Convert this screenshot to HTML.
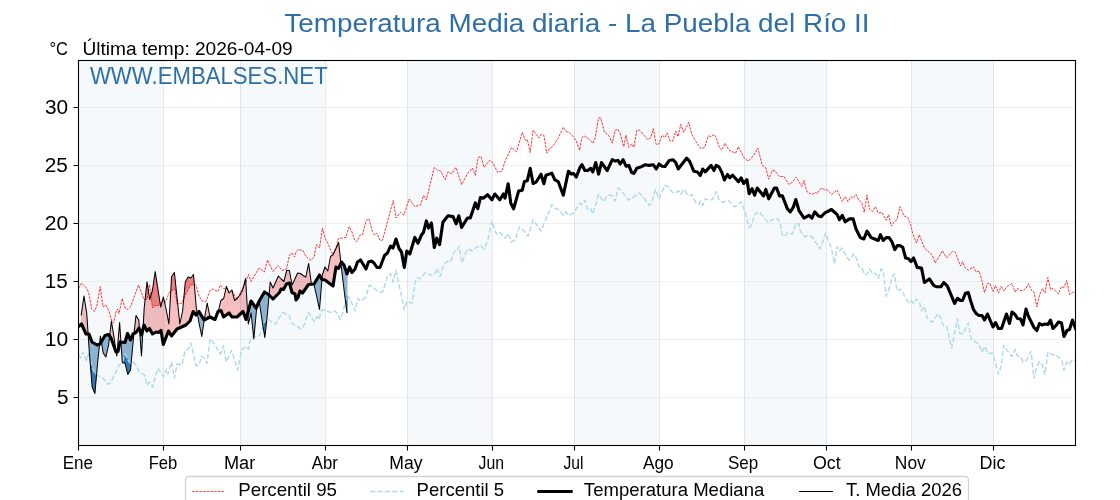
<!DOCTYPE html>
<html lang="es"><head><meta charset="utf-8"><title>Temperatura Media diaria - La Puebla del Río II</title>
<style>html,body{margin:0;padding:0;background:#fff;overflow:hidden}svg{display:block;will-change:transform}body{font-family:"Liberation Sans",sans-serif}</style></head>
<body>
<svg width="1120" height="500" viewBox="0 0 1120 500" font-family="Liberation Sans, sans-serif">
<rect width="1120" height="500" fill="#fff"/>
<rect x="78.50" y="60.5" width="84.91" height="385.0" fill="#f5f9fc"/>
<rect x="240.10" y="60.5" width="84.91" height="385.0" fill="#f5f9fc"/>
<rect x="407.18" y="60.5" width="84.91" height="385.0" fill="#f5f9fc"/>
<rect x="574.26" y="60.5" width="84.91" height="385.0" fill="#f5f9fc"/>
<rect x="744.08" y="60.5" width="82.17" height="385.0" fill="#f5f9fc"/>
<rect x="911.16" y="60.5" width="82.17" height="385.0" fill="#f5f9fc"/>
<path d="M163.5,60.5V445.5 M240.5,60.5V445.5 M325.5,60.5V445.5 M407.5,60.5V445.5 M492.5,60.5V445.5 M574.5,60.5V445.5 M659.5,60.5V445.5 M744.5,60.5V445.5 M826.5,60.5V445.5 M911.5,60.5V445.5 M993.5,60.5V445.5" stroke="#a4b0bc" stroke-opacity="0.27" stroke-width="1" fill="none"/>
<path d="M78.5,397.5H1075.5 M78.5,339.5H1075.5 M78.5,281.5H1075.5 M78.5,223.5H1075.5 M78.5,165.5H1075.5 M78.5,107.5H1075.5" stroke="#b0b0b0" stroke-opacity="0.18" stroke-width="1" fill="none"/>
<clipPath id="c"><rect x="78.5" y="60.5" width="997.0" height="385.0"/></clipPath>
<g clip-path="url(#c)" fill="none" stroke-linejoin="round">
<path d="M81.2,315.0 L81.5,313.2 L84.0,296.0 L86.0,308.5 L86.7,313.0 L88.1,334.0 L88.1,334.0 L86.7,334.0 L86.0,334.0 L84.0,329.5 L81.5,324.0 L81.2,324.2Z M99.6,344.1 L100.0,339.9 L100.4,336.0 L101.3,341.7 L101.3,341.7 L100.4,343.3 L100.0,344.0 L99.6,344.1Z M109.6,336.1 L111.0,324.2 L111.4,321.0 L114.1,338.0 L116.0,350.4 L116.2,351.9 L116.2,351.9 L116.0,352.0 L114.1,346.7 L111.4,339.0 L111.0,338.0 L109.6,336.1Z M117.2,351.7 L118.0,341.9 L119.6,322.5 L120.0,328.6 L120.9,342.1 L120.9,342.1 L120.0,342.0 L119.6,344.0 L118.0,351.5 L117.2,351.7Z M134.0,333.5 L136.0,315.7 L136.0,315.5 L138.8,320.0 L139.0,323.2 L139.5,329.3 L139.5,329.3 L139.0,328.0 L138.8,328.4 L136.0,332.5 L136.0,332.5 L134.0,333.5Z M143.0,328.8 L144.0,312.1 L144.2,308.0 L147.0,281.8 L147.0,282.0 L149.5,298.1 L149.7,299.5 L152.5,290.0 L152.5,289.7 L155.2,271.5 L156.0,276.7 L157.9,289.0 L158.5,292.7 L160.7,307.0 L161.0,305.8 L163.3,297.4 L163.4,297.0 L166.1,309.0 L168.5,321.9 L168.9,324.0 L171.5,278.7 L171.6,276.5 L174.4,272.5 L177.0,297.0 L177.1,298.0 L179.8,324.0 L182.6,311.0 L185.3,282.0 L186.0,280.8 L188.1,277.0 L190.0,277.7 L190.8,278.0 L193.2,274.9 L193.5,274.5 L196.0,304.6 L196.3,308.0 L197.3,313.5 L197.3,313.5 L196.3,314.7 L196.0,315.0 L193.5,311.9 L193.2,311.5 L190.8,318.6 L190.0,321.0 L188.1,322.9 L186.0,325.0 L185.3,325.3 L182.6,326.5 L179.8,327.7 L177.1,329.0 L177.0,329.0 L174.4,332.4 L171.6,335.8 L171.5,336.0 L168.9,331.6 L168.5,331.0 L166.1,337.1 L163.4,344.2 L163.3,344.5 L161.0,330.5 L160.7,330.8 L158.5,332.5 L157.9,332.4 L156.0,332.0 L155.2,332.5 L152.5,334.0 L152.5,333.9 L149.7,328.9 L149.5,328.5 L147.0,331.0 L147.0,331.0 L144.2,325.5 L144.0,325.0 L143.0,328.8Z M204.2,319.9 L204.5,318.0 L207.2,303.0 L210.0,317.0 L210.0,317.0 L210.0,317.0 L210.0,317.0 L207.2,318.4 L204.5,319.8 L204.2,319.9Z M218.2,311.4 L220.9,300.5 L221.0,300.4 L223.5,298.6 L223.7,298.5 L226.4,286.5 L229.0,292.7 L229.1,293.0 L231.9,290.0 L232.0,290.4 L234.6,300.5 L237.0,298.3 L237.4,298.0 L240.1,295.0 L242.8,289.5 L243.0,288.9 L245.6,278.5 L246.0,285.5 L247.7,313.3 L247.7,313.3 L246.0,319.5 L245.6,318.4 L243.0,311.5 L242.8,311.6 L240.1,314.2 L237.4,316.7 L237.0,317.0 L234.6,317.0 L232.0,317.0 L231.9,316.8 L229.1,313.2 L229.0,313.0 L226.4,314.9 L223.7,316.9 L223.5,317.0 L221.0,310.5 L220.9,310.5 L218.2,311.4Z M269.1,295.1 L270.2,282.0 L273.0,288.0 L273.0,287.9 L275.7,282.0 L278.4,276.0 L279.5,277.2 L281.0,278.8 L281.2,279.0 L283.5,281.1 L283.9,281.5 L286.5,271.2 L286.7,270.5 L289.4,270.5 L289.5,271.0 L292.0,284.2 L292.1,285.0 L294.9,279.0 L295.0,278.7 L296.0,276.6 L297.6,273.0 L298.0,273.1 L300.0,273.4 L300.4,273.5 L302.5,275.1 L303.1,275.5 L305.8,277.0 L308.5,263.9 L308.6,263.5 L311.3,283.0 L312.8,284.1 L312.8,284.1 L311.3,284.2 L308.6,284.5 L308.5,284.5 L305.8,288.3 L303.1,292.2 L302.5,293.0 L300.4,291.3 L300.0,291.0 L298.0,297.5 L297.6,298.0 L296.0,300.0 L295.0,294.0 L294.9,293.9 L292.1,292.6 L292.0,292.5 L289.5,283.0 L289.4,283.0 L286.7,283.9 L286.5,284.0 L283.9,288.7 L283.5,289.5 L281.2,289.0 L281.0,289.0 L279.5,292.5 L278.4,293.6 L275.7,296.3 L273.0,299.0 L273.0,299.0 L270.2,296.2 L269.1,295.1Z M321.9,279.4 L322.0,278.4 L322.3,275.0 L325.0,267.0 L325.0,267.0 L327.8,271.0 L330.5,256.5 L333.0,254.7 L333.2,254.5 L336.0,248.5 L336.0,248.4 L338.5,243.0 L338.7,242.5 L340.9,263.2 L340.9,263.2 L338.7,268.1 L338.5,268.5 L336.0,267.0 L336.0,267.2 L333.2,284.6 L333.0,286.0 L330.5,284.1 L327.8,282.1 L325.0,280.0 L325.0,280.0 L322.3,279.5 L322.0,279.5 L321.9,279.4Z" fill="#e11e23" fill-opacity="0.29"/>
<path d="M88.1,334.0 L89.0,348.0 L89.5,355.0 L92.0,384.7 L92.2,387.0 L94.9,393.5 L97.0,369.7 L97.7,362.0 L99.6,344.1 L99.6,344.1 L97.7,344.8 L97.0,345.0 L94.9,343.8 L92.2,342.1 L92.0,342.0 L89.5,335.2 L89.0,334.0 L88.1,334.0Z M101.3,341.7 L103.2,353.0 L105.0,355.7 L105.9,357.0 L108.5,345.6 L108.6,345.0 L109.6,336.1 L109.6,336.1 L108.6,334.7 L108.5,334.5 L105.9,335.2 L105.0,335.5 L103.2,338.6 L101.3,341.7Z M116.2,351.9 L116.8,356.0 L117.2,351.7 L117.2,351.7 L116.8,351.8 L116.2,351.9Z M120.9,342.1 L122.3,362.5 L125.0,363.5 L125.1,363.5 L127.5,373.3 L127.8,374.5 L130.5,370.1 L130.5,370.0 L133.0,343.1 L133.3,340.0 L134.0,333.5 L134.0,333.5 L133.3,333.9 L133.0,334.0 L130.5,339.9 L130.5,340.0 L127.8,334.2 L127.5,333.5 L125.1,342.3 L125.0,342.5 L122.3,342.2 L120.9,342.1Z M139.5,329.3 L141.5,356.0 L141.5,356.0 L143.0,328.8 L143.0,328.8 L141.5,335.0 L141.5,335.0 L139.5,329.3Z M197.3,313.5 L199.0,322.9 L199.0,323.0 L201.8,336.5 L204.0,321.3 L204.2,319.9 L204.2,319.9 L204.0,320.0 L201.8,316.2 L199.0,311.5 L199.0,311.5 L197.3,313.5Z M210.0,317.0 L210.0,317.0 L212.7,318.8 L215.0,319.6 L215.5,319.8 L218.0,312.1 L218.2,311.5 L218.2,311.4 L218.2,311.4 L218.2,311.4 L218.0,311.5 L215.5,318.3 L215.0,319.5 L212.7,318.4 L210.0,317.0 L210.0,317.0Z M247.7,313.3 L248.3,324.0 L251.0,313.2 L251.1,313.0 L253.8,339.0 L256.0,315.7 L256.5,310.0 L259.3,302.0 L259.5,303.5 L262.0,320.0 L264.5,335.9 L264.8,337.5 L267.5,313.0 L268.5,301.6 L269.1,295.1 L269.1,295.1 L268.5,294.5 L267.5,293.9 L264.8,292.2 L264.5,292.0 L262.0,296.2 L259.5,300.5 L259.3,301.0 L256.5,306.9 L256.0,308.0 L253.8,304.9 L251.1,301.1 L251.0,301.0 L248.3,310.9 L247.7,313.3Z M312.8,284.1 L314.0,285.0 L314.1,285.0 L316.8,297.0 L319.5,309.3 L319.5,309.5 L321.9,279.4 L321.9,279.4 L319.5,275.1 L319.5,275.0 L316.8,279.4 L314.1,283.9 L314.0,284.0 L312.8,284.1Z M340.9,263.2 L341.4,268.0 L341.5,268.5 L344.0,289.5 L344.2,291.0 L346.9,312.5 L347.0,312.5 L347.5,312.5 L347.5,272.5 L347.0,274.0 L346.9,273.8 L344.2,265.6 L344.0,265.0 L341.5,262.0 L341.4,262.1 L340.9,263.2Z" fill="#4682b4" fill-opacity="0.6"/>
<path d="M145.1,299.5 L147.0,281.8 L147.0,282.0 L148.4,291.1 L148.4,291.1 L147.0,299.5 L147.0,299.5 L145.1,299.5Z M150.9,295.4 L152.5,290.0 L152.5,289.7 L155.0,272.8 L155.2,271.5 L157.9,289.0 L158.0,289.5 L160.1,303.4 L160.1,303.4 L158.0,306.0 L157.9,306.0 L155.2,305.5 L155.0,305.5 L152.5,308.0 L152.5,307.6 L150.9,295.4Z M162.4,300.7 L163.0,298.5 L163.4,297.0 L164.7,302.5 L164.7,302.5 L163.4,300.6 L163.0,300.0 L162.4,300.7Z M170.8,291.3 L171.6,276.5 L174.4,272.5 L175.0,278.4 L177.0,297.0 L177.1,298.0 L177.7,303.9 L177.7,303.9 L177.1,304.0 L177.0,304.0 L175.0,289.0 L174.4,289.3 L171.6,290.8 L170.8,291.3Z M183.7,298.9 L185.3,282.0 L186.0,280.8 L188.1,277.0 L190.5,277.9 L190.8,278.0 L193.5,274.5 L194.4,285.0 L194.4,285.0 L193.5,285.0 L190.8,285.0 L190.5,285.0 L188.1,289.6 L186.0,293.5 L185.3,295.1 L183.7,298.9Z M226.3,287.1 L226.4,286.5 L228.6,291.7 L228.6,291.7 L226.4,287.3 L226.3,287.1Z M230.5,291.5 L231.9,290.0 L232.0,290.4 L232.0,290.6 L232.0,290.6 L232.0,290.5 L231.9,290.6 L230.5,291.5Z M236.6,298.7 L237.0,298.3 L237.4,298.0 L238.0,297.3 L238.0,297.3 L237.4,298.7 L237.0,299.5 L236.6,298.7Z M243.6,286.6 L245.0,280.8 L245.6,278.5 L245.8,281.9 L245.8,281.9 L245.6,282.4 L245.0,284.0 L243.6,286.6Z" fill="#e11e23" fill-opacity="0.39"/>
<path d="M89.7,357.8 L91.0,373.0 L92.2,387.0 L94.5,392.5 L94.9,393.5 L96.6,374.7 L96.6,374.7 L94.9,373.8 L94.5,373.5 L92.2,366.6 L91.0,363.0 L89.7,357.8Z M122.3,362.5 L122.3,362.5 L125.0,363.5 L125.1,363.5 L127.8,374.5 L128.0,374.2 L130.5,370.1 L130.5,370.0 L131.2,363.2 L131.2,363.2 L130.5,363.5 L130.5,363.5 L128.0,360.0 L127.8,359.6 L125.1,354.1 L125.0,354.0 L122.3,362.5 L122.3,362.5Z M253.6,336.7 L253.8,339.0 L254.0,336.6 L254.0,336.6 L253.8,336.7 L253.6,336.7Z M263.0,326.2 L264.5,335.9 L264.8,337.5 L266.9,318.1 L266.9,318.1 L264.8,321.6 L264.5,322.0 L263.0,326.2Z M345.5,301.4 L346.9,312.5 L347.0,312.5 L347.5,312.5 L347.5,295.7 L347.0,295.0 L346.9,295.3 L345.5,301.4Z" fill="#1f6fb0" fill-opacity="0.85"/>
<path d="M78.5,288.5 L81.5,283.2 L87.0,288.5 L89.0,294.0 L91.7,309.0 L94.5,311.5 L97.0,305.0 L100.3,286.5 L103.0,307.0 L105.5,305.0 L108.5,310.0 L111.5,320.0 L113.5,323.0 L116.0,312.0 L117.5,309.0 L119.0,313.5 L122.2,298.5 L125.0,308.0 L128.0,309.5 L130.5,307.0 L138.5,285.0 L144.0,299.5 L147.0,299.5 L149.5,284.5 L152.5,308.0 L155.0,305.5 L158.0,306.0 L163.0,300.0 L165.0,303.0 L169.5,292.0 L175.0,289.0 L177.0,304.0 L182.0,303.0 L186.0,293.5 L190.5,285.0 L196.0,285.0 L199.0,296.0 L202.0,301.0 L206.0,301.5 L210.0,290.5 L212.5,289.0 L218.0,291.5 L220.5,285.0 L224.0,289.0 L226.0,286.5 L229.0,292.5 L232.0,290.5 L237.0,299.5 L240.0,293.0 L245.0,284.0 L248.5,274.5 L251.0,281.5 L259.0,268.0 L264.5,272.0 L267.5,260.0 L273.0,271.5 L278.0,265.5 L282.0,270.5 L286.5,269.0 L289.5,255.0 L292.0,253.0 L294.5,257.0 L296.0,252.0 L298.0,249.5 L303.0,250.5 L306.0,256.5 L311.0,260.5 L314.0,257.0 L316.5,244.5 L319.5,248.0 L322.5,228.0 L325.0,238.0 L328.0,243.5 L332.5,254.5 L336.0,247.5 L338.5,238.5 L346.0,237.5 L349.0,226.6 L352.0,232.0 L354.5,240.0 L357.0,241.7 L360.0,235.0 L362.5,235.0 L366.0,221.0 L368.8,218.7 L373.0,233.5 L375.0,235.0 L377.0,233.3 L380.0,240.4 L382.5,240.2 L393.2,200.5 L396.1,218.0 L400.4,212.2 L404.0,215.1 L409.1,199.0 L414.8,206.5 L420.6,204.8 L423.5,195.4 L426.4,199.8 L434.3,167.4 L437.2,170.2 L440.8,171.0 L445.1,179.6 L448.0,171.7 L451.6,173.8 L455.9,167.4 L461.6,184.6 L467.4,173.8 L472.4,168.1 L475.3,175.3 L478.2,157.3 L481.1,156.6 L484.0,167.4 L489.7,160.2 L492.6,162.3 L497.6,172.4 L502.0,171.0 L505.0,161.3 L511.5,147.4 L516.5,151.8 L522.3,132.3 L525.2,140.2 L527.3,139.5 L530.2,152.5 L533.1,130.2 L538.8,138.1 L541.0,134.5 L543.9,135.2 L546.8,153.2 L549.6,148.2 L552.5,146.7 L558.3,138.1 L563.3,127.3 L566.2,131.6 L569.1,132.3 L572.7,135.9 L576.3,141.0 L579.5,150.3 L582.0,137.4 L584.2,135.9 L587.8,138.1 L592.8,143.1 L595.0,138.8 L598.6,117.9 L600.8,117.9 L604.4,132.3 L608.7,135.2 L612.3,143.1 L615.2,130.2 L618.0,129.4 L620.2,133.8 L623.8,146.7 L626.0,135.2 L628.8,147.4 L631.7,143.8 L633.9,147.4 L636.8,130.2 L639.6,130.2 L647.6,139.5 L650.4,138.1 L653.3,128.7 L656.2,144.6 L659.1,143.8 L662.0,135.2 L665.0,137.4 L667.2,133.0 L670.0,141.0 L672.9,141.0 L675.8,130.9 L678.0,136.6 L680.8,124.4 L683.7,132.3 L688.8,122.2 L691.6,133.8 L696.0,141.7 L701.0,148.9 L704.6,147.4 L708.2,135.9 L711.1,136.6 L714.0,134.5 L716.1,137.4 L719.7,148.2 L721.9,150.3 L724.8,143.1 L729.1,150.3 L735.6,153.2 L738.4,146.7 L744.2,158.2 L748.5,161.1 L753.6,155.4 L757.9,148.2 L762.2,165.4 L765.8,167.6 L768.7,179.2 L772.3,170.3 L775.2,171.2 L779.5,176.7 L783.8,176.3 L788.8,184.4 L792.4,182.2 L796.0,177.1 L801.8,186.6 L804.0,180.3 L806.8,191.6 L811.9,194.5 L815.5,192.3 L816.9,193.8 L821.2,188.0 L825.0,189.8 L827.9,190.1 L831.5,194.4 L837.2,190.1 L842.3,201.6 L845.2,196.6 L848.0,201.6 L850.9,196.6 L853.1,198.0 L856.0,194.4 L858.8,200.2 L861.7,202.3 L864.2,212.4 L867.0,195.1 L869.6,209.5 L872.5,211.7 L875.4,206.6 L878.3,213.1 L881.9,212.4 L886.2,220.3 L888.7,214.6 L891.2,226.1 L894.1,221.8 L897.0,219.6 L899.9,206.6 L904.2,216.0 L907.8,217.4 L910.7,224.6 L912.8,234.0 L916.4,243.2 L919.3,234.7 L924.4,248.2 L932.3,255.1 L935.2,263.0 L942.4,250.8 L946.7,258.0 L952.4,251.5 L955.3,252.2 L960.4,265.9 L962.5,261.6 L965.4,268.1 L968.3,270.2 L973.4,266.8 L976.3,272.2 L979.0,271.0 L981.4,278.5 L984.5,292.5 L987.5,283.5 L990.0,283.5 L993.0,291.5 L995.5,285.5 L998.5,293.0 L1001.0,286.5 L1004.0,291.0 L1007.0,286.5 L1012.0,283.5 L1015.0,292.0 L1017.5,288.5 L1020.5,290.5 L1023.0,290.5 L1026.0,288.5 L1028.5,283.5 L1031.5,290.5 L1034.0,292.0 L1036.8,307.0 L1039.5,295.0 L1042.5,288.5 L1045.0,293.0 L1047.8,277.5 L1050.5,289.5 L1053.0,288.5 L1058.5,294.0 L1061.5,286.5 L1064.0,287.5 L1066.8,280.5 L1069.5,294.5 L1072.5,292.5 L1075.5,292.0" stroke="#ff0000" stroke-width="0.8" stroke-dasharray="2.57 1.11"/>
<path d="M78.5,355.0 L80.5,358.0 L83.0,352.0 L86.5,361.5 L88.5,353.0 L91.0,363.0 L94.5,373.5 L97.0,375.0 L103.0,378.0 L108.5,384.5 L111.0,382.0 L119.0,365.0 L122.0,363.5 L125.0,354.0 L128.0,360.0 L130.5,363.5 L133.5,362.0 L136.0,365.0 L139.0,371.5 L144.5,375.0 L147.0,385.5 L149.5,382.0 L152.5,387.0 L158.0,368.0 L163.5,377.0 L166.5,369.0 L168.0,374.0 L171.5,362.0 L174.5,378.0 L177.0,364.0 L182.0,365.0 L185.0,351.0 L186.0,350.5 L188.0,349.5 L190.8,343.0 L193.5,354.0 L196.0,365.5 L199.0,365.5 L201.5,356.0 L204.0,358.0 L207.0,363.5 L210.0,339.0 L215.5,345.0 L218.0,351.0 L220.5,354.0 L223.5,345.5 L226.0,362.0 L231.5,350.5 L234.5,360.0 L237.5,370.0 L242.0,349.0 L246.0,346.5 L248.5,349.0 L251.0,337.0 L259.5,336.0 L264.5,322.0 L267.0,318.0 L273.0,323.0 L276.0,324.0 L282.0,312.5 L286.0,314.0 L289.0,315.5 L292.0,323.5 L296.0,325.5 L301.0,329.0 L303.5,326.5 L308.5,312.5 L311.5,317.5 L314.5,321.5 L317.0,316.5 L319.0,319.5 L321.5,310.0 L325.5,310.0 L330.0,312.5 L334.0,310.5 L337.0,313.0 L340.5,319.5 L343.5,310.0 L347.0,295.0 L350.0,299.0 L355.0,311.0 L358.0,298.5 L360.5,301.0 L366.0,297.0 L369.0,285.5 L372.0,286.0 L377.0,291.0 L380.0,292.5 L383.0,291.5 L387.5,276.0 L390.5,273.5 L393.0,282.0 L396.0,270.5 L399.0,284.5 L404.3,310.0 L407.0,301.5 L412.0,303.2 L415.6,280.9 L417.7,277.3 L419.9,278.8 L425.6,272.3 L432.1,275.9 L435.0,273.7 L437.2,268.2 L440.0,276.6 L443.6,265.6 L447.0,261.4 L450.8,261.7 L454.4,251.1 L456.5,251.1 L459.1,246.1 L461.9,262.7 L467.4,249.0 L470.3,249.7 L472.4,251.1 L475.3,248.2 L480.4,245.4 L484.0,249.0 L487.6,241.0 L491.9,220.9 L496.2,233.8 L499.1,231.7 L502.0,234.6 L505.0,238.0 L507.9,233.4 L511.5,242.0 L515.1,239.8 L519.4,226.9 L523.7,230.5 L528.0,236.2 L533.1,219.7 L541.0,231.2 L551.8,204.6 L554.7,208.2 L559.0,209.6 L563.3,215.4 L565.5,211.8 L569.1,215.4 L573.4,213.2 L579.9,203.1 L582.0,204.6 L584.9,200.2 L587.8,210.3 L590.7,208.9 L592.8,213.9 L598.6,194.5 L603.6,201.7 L608.0,194.5 L612.3,195.9 L615.2,201.0 L618.0,188.0 L620.9,190.2 L628.8,200.2 L639.6,193.0 L644.0,198.1 L649.0,205.3 L651.9,202.4 L655.5,189.4 L659.1,198.8 L665.0,185.1 L667.9,186.6 L672.2,192.3 L675.1,193.0 L678.7,190.9 L680.8,194.5 L683.7,189.4 L688.8,195.9 L691.6,194.5 L696.0,203.1 L698.8,204.6 L700.3,201.0 L702.7,205.3 L705.3,198.8 L708.9,200.2 L712.5,199.5 L716.4,191.6 L719.0,199.5 L722.6,202.4 L728.4,200.2 L733.4,206.0 L735.6,206.7 L741.3,201.7 L745.6,213.9 L749.2,227.6 L751.4,225.4 L755.0,213.9 L759.3,211.8 L768.0,222.6 L771.6,219.7 L778.0,219.0 L780.2,223.3 L782.4,234.8 L784.5,237.0 L787.4,232.6 L792.4,234.1 L796.0,223.3 L798.9,224.0 L800.4,231.2 L804.7,237.0 L807.6,235.5 L811.9,237.0 L816.2,243.0 L819.6,249.0 L822.6,242.5 L825.6,233.0 L827.9,239.5 L831.5,248.0 L834.4,263.8 L837.2,246.5 L839.4,250.8 L842.3,247.9 L845.2,254.4 L848.8,260.2 L851.6,258.0 L853.8,253.7 L856.0,257.3 L858.8,266.6 L861.7,267.4 L864.6,274.6 L867.5,273.8 L869.6,268.8 L872.5,273.8 L875.4,273.1 L878.3,278.2 L881.2,268.8 L883.3,271.0 L886.2,296.2 L889.1,289.0 L892.0,277.4 L894.4,273.8 L897.0,291.1 L900.6,289.0 L903.5,294.0 L908.5,303.2 L911.4,301.0 L913.6,303.5 L916.4,299.0 L919.3,301.3 L921.5,310.7 L924.4,306.4 L927.2,318.0 L932.3,322.3 L938.0,313.7 L940.9,318.7 L943.8,326.6 L946.7,326.6 L951.7,348.2 L957.5,318.7 L959.6,333.1 L963.2,333.8 L968.3,323.0 L971.2,339.5 L976.5,342.5 L979.0,344.5 L982.0,352.2 L985.0,346.3 L987.5,353.0 L993.0,353.5 L998.5,374.0 L1001.0,366.0 L1004.0,345.0 L1009.5,354.0 L1012.0,356.5 L1015.0,349.5 L1017.5,356.0 L1020.5,356.5 L1023.0,362.0 L1026.0,361.0 L1031.0,351.5 L1034.0,378.5 L1036.8,366.5 L1039.5,361.5 L1042.0,364.5 L1045.0,374.5 L1048.0,352.0 L1053.0,355.0 L1056.0,355.0 L1061.5,359.5 L1064.0,370.0 L1067.0,362.0 L1069.5,364.5 L1072.5,359.5 L1075.5,360.0" stroke="#add8e6" stroke-width="1.39" stroke-dasharray="5.14 2.22"/>
<path d="M78.5,326.5 L81.5,324.0 L86.0,334.0 L89.0,334.0 L92.0,342.0 L97.0,345.0 L100.0,344.0 L105.0,335.5 L108.5,334.5 L111.0,338.0 L116.0,352.0 L118.0,351.5 L120.0,342.0 L125.0,342.5 L127.5,333.5 L130.5,340.0 L133.0,334.0 L136.0,332.5 L139.0,328.0 L141.5,335.0 L144.0,325.0 L147.0,331.0 L149.5,328.5 L152.5,334.0 L156.0,332.0 L158.5,332.5 L161.0,330.5 L163.3,344.5 L168.5,331.0 L171.5,336.0 L177.0,329.0 L186.0,325.0 L190.0,321.0 L193.2,311.5 L196.0,315.0 L199.0,311.5 L204.0,320.0 L210.0,317.0 L215.0,319.5 L218.0,311.5 L221.0,310.5 L223.5,317.0 L229.0,313.0 L232.0,317.0 L237.0,317.0 L243.0,311.5 L246.0,319.5 L251.0,301.0 L256.0,308.0 L259.5,300.5 L264.5,292.0 L268.5,294.5 L273.0,299.0 L279.5,292.5 L281.0,289.0 L283.5,289.5 L286.5,284.0 L289.5,283.0 L292.0,292.5 L295.0,294.0 L296.0,300.0 L298.0,297.5 L300.0,291.0 L302.5,293.0 L308.5,284.5 L314.0,284.0 L319.5,275.0 L322.0,279.5 L325.0,280.0 L333.0,286.0 L336.0,267.0 L338.5,268.5 L341.5,262.0 L344.0,265.0 L347.0,274.0 L349.5,267.0 L352.0,272.5 L355.0,269.0 L357.5,262.0 L360.5,260.0 L366.0,269.0 L368.5,262.0 L371.5,261.0 L374.0,263.0 L377.0,267.5 L380.0,267.5 L384.5,255.5 L387.5,253.0 L390.5,246.0 L393.0,248.0 L396.0,239.0 L399.0,248.5 L401.5,252.0 L404.3,267.5 L406.8,251.0 L409.8,254.0 L414.8,237.4 L418.0,243.2 L421.3,235.3 L423.5,232.4 L426.4,220.9 L428.5,228.1 L431.4,223.0 L434.3,247.5 L436.7,238.2 L439.6,244.6 L442.9,222.3 L448.0,215.8 L453.0,216.6 L456.2,223.8 L458.8,215.8 L461.6,227.4 L467.4,218.0 L470.3,218.0 L475.3,202.9 L477.8,208.6 L480.4,197.6 L483.2,198.3 L487.6,194.7 L491.9,199.8 L494.8,194.0 L499.8,199.8 L503.4,194.0 L505.0,198.1 L508.2,183.7 L510.8,203.1 L513.6,208.9 L518.7,190.9 L522.3,190.2 L524.4,181.5 L527.3,180.7 L530.2,168.3 L533.1,183.5 L536.0,182.2 L541.0,174.2 L543.9,183.7 L546.0,175.2 L551.8,173.1 L554.7,179.6 L558.3,181.8 L563.3,195.2 L566.2,181.7 L568.4,171.2 L571.2,174.1 L573.4,173.4 L576.3,177.0 L579.9,167.6 L582.0,164.7 L584.9,170.5 L587.8,170.5 L590.7,168.3 L592.8,171.9 L595.7,162.6 L598.6,174.1 L601.5,162.6 L607.2,170.5 L612.3,159.7 L615.2,161.1 L618.0,160.4 L620.2,164.0 L623.1,159.7 L626.0,166.2 L628.8,165.4 L631.7,172.6 L633.9,173.4 L636.8,168.3 L641.1,166.9 L645.4,164.7 L649.0,165.4 L653.3,164.7 L656.2,169.0 L659.1,164.0 L662.0,166.2 L665.0,166.5 L669.3,160.4 L672.9,159.7 L675.8,162.6 L678.2,169.0 L686.6,158.2 L689.5,161.1 L693.8,171.2 L697.4,171.9 L700.3,175.5 L702.7,169.0 L705.3,171.9 L711.1,165.4 L714.0,170.5 L716.1,165.4 L719.0,166.9 L721.9,172.6 L724.4,180.0 L727.6,174.5 L729.8,177.8 L732.7,175.2 L738.4,181.8 L741.1,177.8 L743.7,183.5 L746.9,179.6 L749.2,193.8 L752.1,188.7 L754.6,195.2 L757.2,188.0 L763.6,195.9 L765.8,189.4 L768.7,198.8 L774.4,188.0 L776.6,188.0 L779.5,195.9 L782.4,195.9 L787.4,208.9 L790.3,211.8 L793.2,207.4 L795.8,199.5 L798.9,210.3 L804.0,218.2 L809.0,215.4 L811.9,218.2 L814.8,211.8 L818.4,216.1 L821.2,216.8 L825.0,212.8 L828.6,211.0 L831.5,209.5 L837.2,214.6 L839.4,219.6 L842.3,215.3 L845.2,221.8 L849.5,218.9 L853.1,218.9 L856.0,229.0 L860.3,237.6 L863.9,239.0 L867.0,231.1 L871.1,237.6 L874.7,239.0 L878.3,240.5 L880.4,234.7 L883.3,240.5 L886.2,237.6 L889.1,237.6 L892.0,241.9 L894.8,249.6 L897.4,245.6 L899.9,245.5 L902.8,247.4 L905.6,258.0 L908.5,258.7 L911.0,261.6 L913.6,258.0 L917.2,267.4 L921.5,268.1 L924.4,282.5 L929.4,278.9 L933.7,285.4 L936.6,286.8 L940.9,286.8 L943.8,282.5 L947.4,286.1 L954.6,303.4 L957.5,298.3 L960.4,300.5 L962.5,300.5 L965.4,293.3 L968.3,292.6 L970.4,300.0 L973.4,309.4 L976.4,313.8 L979.0,315.5 L982.0,315.5 L984.5,320.0 L987.5,314.0 L993.0,327.0 L995.5,322.5 L998.5,328.5 L1001.5,328.5 L1006.5,314.0 L1009.5,323.5 L1012.0,312.0 L1015.0,314.5 L1017.5,318.5 L1020.5,319.0 L1023.0,325.0 L1026.0,309.0 L1028.5,316.5 L1034.0,327.5 L1036.8,330.5 L1039.5,323.5 L1042.0,325.0 L1045.0,324.0 L1048.0,324.5 L1050.5,320.0 L1053.0,328.5 L1056.0,325.5 L1058.5,322.0 L1061.5,323.0 L1064.0,336.5 L1067.0,330.5 L1069.5,329.5 L1072.5,320.0 L1075.5,328.5" stroke="#000" stroke-width="3.1" stroke-linecap="square"/>
<path d="M81.2,315.0 L84.0,296.0 L86.7,313.0 L89.5,355.0 L92.2,387.0 L94.9,393.5 L97.7,362.0 L100.4,336.0 L103.2,353.0 L105.9,357.0 L108.6,345.0 L111.4,321.0 L114.1,338.0 L116.8,356.0 L119.6,322.5 L122.3,362.5 L125.1,363.5 L127.8,374.5 L130.5,370.0 L133.3,340.0 L136.0,315.5 L138.8,320.0 L141.5,356.0 L144.2,308.0 L147.0,281.8 L149.7,299.5 L152.5,290.0 L155.2,271.5 L157.9,289.0 L160.7,307.0 L163.4,297.0 L166.1,309.0 L168.9,324.0 L171.6,276.5 L174.4,272.5 L177.1,298.0 L179.8,324.0 L182.6,311.0 L185.3,282.0 L188.1,277.0 L190.8,278.0 L193.5,274.5 L196.3,308.0 L199.0,323.0 L201.8,336.5 L204.5,318.0 L207.2,303.0 L210.0,317.0 L212.7,318.8 L215.5,319.8 L218.2,311.5 L220.9,300.5 L223.7,298.5 L226.4,286.5 L229.1,293.0 L231.9,290.0 L234.6,300.5 L237.4,298.0 L240.1,295.0 L242.8,289.5 L245.6,278.5 L248.3,324.0 L251.1,313.0 L253.8,339.0 L256.5,310.0 L259.3,302.0 L262.0,320.0 L264.8,337.5 L267.5,313.0 L270.2,282.0 L273.0,288.0 L275.7,282.0 L278.4,276.0 L281.2,279.0 L283.9,281.5 L286.7,270.5 L289.4,270.5 L292.1,285.0 L294.9,279.0 L297.6,273.0 L300.4,273.5 L303.1,275.5 L305.8,277.0 L308.6,263.5 L311.3,283.0 L314.1,285.0 L316.8,297.0 L319.5,309.5 L322.3,275.0 L325.0,267.0 L327.8,271.0 L330.5,256.5 L333.2,254.5 L336.0,248.5 L338.7,242.5 L341.4,268.0 L344.2,291.0 L346.9,312.5" stroke="#000" stroke-width="1.04" stroke-linecap="square"/>
</g>
<rect x="78.5" y="60.5" width="997.0" height="385.0" fill="none" stroke="#000" stroke-width="1.1"/>
<path d="M78.5,445.5v5 M163.5,445.5v5 M240.5,445.5v5 M325.5,445.5v5 M407.5,445.5v5 M492.5,445.5v5 M574.5,445.5v5 M659.5,445.5v5 M744.5,445.5v5 M826.5,445.5v5 M911.5,445.5v5 M993.5,445.5v5 M78.5,397.5h-5 M78.5,339.5h-5 M78.5,281.5h-5 M78.5,223.5h-5 M78.5,165.5h-5 M78.5,107.5h-5" stroke="#000" stroke-width="1.1" fill="none"/>
<text x="62.70" y="468.80" font-size="17.67" fill="#000" textLength="30.30" lengthAdjust="spacingAndGlyphs">Ene</text>
<text x="148.64" y="468.80" font-size="17.67" fill="#000" textLength="28.65" lengthAdjust="spacingAndGlyphs">Feb</text>
<text x="224.01" y="468.80" font-size="17.67" fill="#000" textLength="31.28" lengthAdjust="spacingAndGlyphs">Mar</text>
<text x="311.72" y="468.80" font-size="17.67" fill="#000" textLength="26.05" lengthAdjust="spacingAndGlyphs">Abr</text>
<text x="389.31" y="468.80" font-size="17.67" fill="#000" textLength="33.23" lengthAdjust="spacingAndGlyphs">May</text>
<text x="478.51" y="468.80" font-size="17.67" fill="#000" textLength="25.50" lengthAdjust="spacingAndGlyphs">Jun</text>
<text x="563.52" y="468.80" font-size="17.67" fill="#000" textLength="20.02" lengthAdjust="spacingAndGlyphs">Jul</text>
<text x="642.97" y="468.80" font-size="17.67" fill="#000" textLength="30.75" lengthAdjust="spacingAndGlyphs">Ago</text>
<text x="727.99" y="468.80" font-size="17.67" fill="#000" textLength="30.22" lengthAdjust="spacingAndGlyphs">Sep</text>
<text x="812.91" y="468.80" font-size="17.67" fill="#000" textLength="27.71" lengthAdjust="spacingAndGlyphs">Oct</text>
<text x="894.82" y="468.80" font-size="17.67" fill="#000" textLength="30.99" lengthAdjust="spacingAndGlyphs">Nov</text>
<text x="979.53" y="468.80" font-size="17.67" fill="#000" textLength="25.95" lengthAdjust="spacingAndGlyphs">Dic</text>
<text x="57.07" y="404.40" font-size="20.61" fill="#000" textLength="11.59" lengthAdjust="spacingAndGlyphs">5</text>
<text x="44.85" y="346.40" font-size="20.61" fill="#000" textLength="23.36" lengthAdjust="spacingAndGlyphs">10</text>
<text x="44.87" y="288.40" font-size="20.61" fill="#000" textLength="22.97" lengthAdjust="spacingAndGlyphs">15</text>
<text x="44.68" y="230.40" font-size="20.61" fill="#000" textLength="23.53" lengthAdjust="spacingAndGlyphs">20</text>
<text x="44.70" y="172.40" font-size="20.61" fill="#000" textLength="23.15" lengthAdjust="spacingAndGlyphs">25</text>
<text x="45.01" y="114.40" font-size="20.61" fill="#000" textLength="23.19" lengthAdjust="spacingAndGlyphs">30</text>
<text x="284.39" y="31.70" font-size="26.50" fill="#2f6fa7" textLength="585.21" lengthAdjust="spacingAndGlyphs">Temperatura Media diaria - La Puebla del Río II</text>
<text x="49.53" y="54.80" font-size="17.67" fill="#000" textLength="18.48" lengthAdjust="spacingAndGlyphs">°C</text>
<text x="82.53" y="54.80" font-size="17.67" fill="#000" textLength="210.18" lengthAdjust="spacingAndGlyphs">Última temp: 2026-04-09</text>
<text x="89.91" y="83.80" font-size="23.56" fill="#2f6fa7" textLength="237.80" lengthAdjust="spacingAndGlyphs">WWW.EMBALSES.NET</text>
<rect x="185.5" y="476.5" width="783" height="40" rx="3.5" ry="3.5" fill="#fff" fill-opacity="0.8" stroke="#d2d2d2" stroke-width="1.3"/>
<path d="M192.1,491.5H225.4" stroke="#ff0000" stroke-width="0.7" stroke-dasharray="2.57 1.11" fill="none"/>
<text x="238.27" y="496.30" font-size="17.67" fill="#000" textLength="98.75" lengthAdjust="spacingAndGlyphs">Percentil 95</text>
<path d="M370.3,491.5H403.7" stroke="#add8e6" stroke-width="1.39" stroke-dasharray="5.14 2.22" fill="none"/>
<text x="416.58" y="496.30" font-size="17.67" fill="#000" textLength="87.59" lengthAdjust="spacingAndGlyphs">Percentil 5</text>
<path d="M538.8,491.5H571.2" stroke="#000" stroke-width="3.0" stroke-linecap="square" fill="none"/>
<text x="583.89" y="496.30" font-size="17.67" fill="#000" textLength="180.40" lengthAdjust="spacingAndGlyphs">Temperatura Mediana</text>
<path d="M799.6,491.5H832.4" stroke="#000" stroke-width="1.04" stroke-linecap="square" fill="none"/>
<text x="845.99" y="496.30" font-size="17.67" fill="#000" textLength="116.05" lengthAdjust="spacingAndGlyphs">T. Media 2026</text>
</svg>
</body></html>
